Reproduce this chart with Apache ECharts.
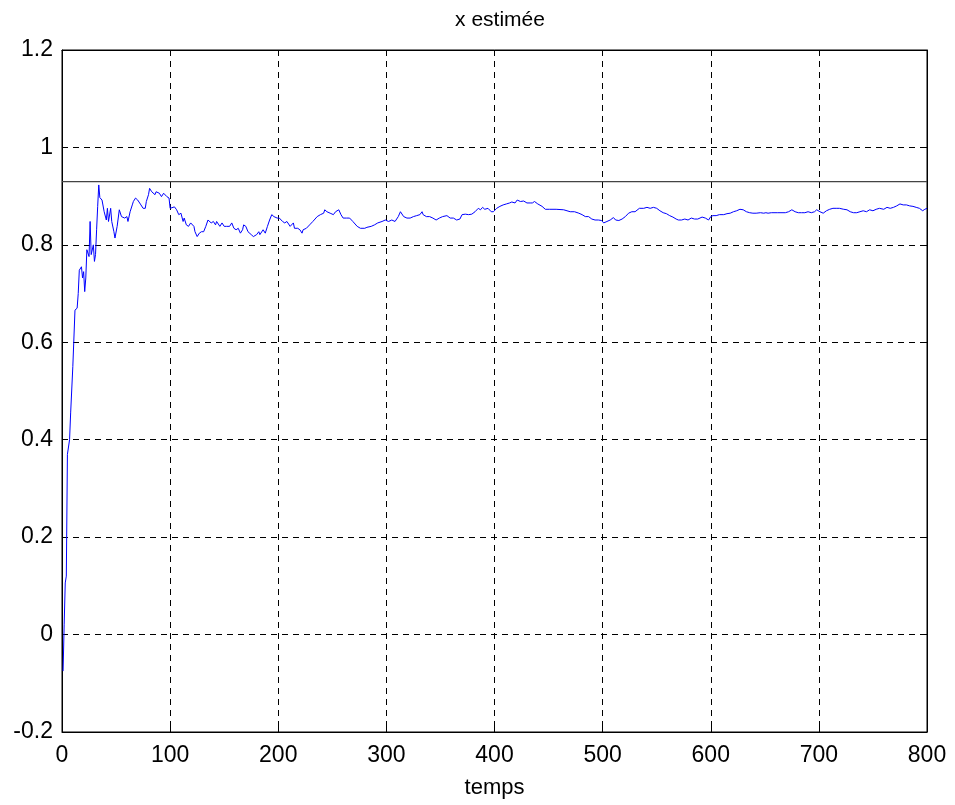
<!DOCTYPE html>
<html>
<head>
<meta charset="utf-8">
<script src="https://cdn.jsdelivr.net/npm/echarts@6/dist/echarts.min.js"></script>
<style>
html,body{margin:0;padding:0;background:#fff;}
#chart{width:955px;height:805px;}
</style>
</head>
<body>
<div id="chart"></div>
<script>
const titleText = 'x estimée';
const xName = 'temps';
const xTicks = [0, 100, 200, 300, 400, 500, 600, 700, 800];
const yTicks = [-0.2, 0, 0.2, 0.4, 0.6, 0.8, 1, 1.2];
const trueValue = 0.93;
const times = [1,2,3,4,5,7,8,10,12,14,15,16,18,19,20,21,22,23,25,26,27,29,30,31,32,33,34,35,37,39,41,42,43,45,46,48,49,51,53,55,58,60,61,63,65,66,68,70,73,75,77,78,80,81,83,84,86,87,90,92,94,95,97,98,99,100,101,104,106,108,110,112,113,115,117,119,122,123,125,127,129,131,133,135,136,138,140,142,143,146,148,150,152,155,157,159,161,163,165,167,168,170,172,175,177,180,182,183,186,188,190,192,194,196,199,201,204,206,208,211,212,214,215,218,220,222,223,226,229,232,236,239,242,243,245,248,249,251,253,256,258,260,263,266,269,273,276,280,282,283,286,289,292,296,299,302,305,308,311,313,314,316,319,322,325,328,331,333,334,337,340,343,346,349,352,356,359,362,365,368,370,373,376,379,382,385,387,389,391,394,397,399,402,405,408,411,414,416,419,421,424,425,427,430,433,435,437,440,444,447,451,457,464,470,474,478,481,484,487,490,493,496,499,501,504,507,510,512,515,518,521,524,527,530,534,538,541,544,547,550,553,556,559,562,565,568,570,573,576,579,582,585,588,592,595,598,600,602,605,608,612,615,618,621,624,627,630,633,636,639,642,646,649,651,653,656,662,669,672,675,678,681,684,687,690,693,696,698,701,704,707,710,713,716,719,723,726,729,732,735,738,741,744,747,750,753,756,760,763,766,769,772,775,778,781,784,787,790,793,796,798,800];
const estimate = [-0.075,0.02,0.106,0.12,0.37,0.40,0.455,0.55,0.666,0.67,0.70,0.748,0.755,0.732,0.745,0.704,0.732,0.79,0.776,0.848,0.78,0.80,0.766,0.78,0.831,0.879,0.923,0.897,0.892,0.868,0.851,0.875,0.848,0.875,0.848,0.827,0.814,0.838,0.872,0.858,0.855,0.858,0.848,0.868,0.882,0.889,0.896,0.892,0.882,0.875,0.875,0.889,0.903,0.916,0.909,0.913,0.903,0.909,0.906,0.899,0.906,0.903,0.899,0.903,0.896,0.875,0.879,0.878,0.872,0.862,0.865,0.848,0.855,0.841,0.838,0.845,0.838,0.827,0.817,0.824,0.827,0.827,0.838,0.851,0.855,0.845,0.848,0.841,0.848,0.838,0.845,0.838,0.838,0.838,0.845,0.834,0.831,0.834,0.824,0.831,0.841,0.838,0.827,0.821,0.817,0.821,0.827,0.821,0.831,0.824,0.838,0.851,0.862,0.858,0.855,0.855,0.848,0.845,0.848,0.838,0.834,0.845,0.834,0.834,0.831,0.824,0.831,0.834,0.841,0.848,0.858,0.862,0.865,0.872,0.868,0.865,0.868,0.862,0.868,0.872,0.862,0.855,0.855,0.855,0.848,0.838,0.834,0.834,0.836,0.832,0.838,0.841,0.845,0.848,0.851,0.848,0.851,0.848,0.858,0.868,0.866,0.858,0.855,0.855,0.858,0.860,0.862,0.868,0.862,0.858,0.858,0.855,0.851,0.855,0.858,0.860,0.855,0.855,0.851,0.853,0.862,0.863,0.862,0.863,0.868,0.875,0.872,0.877,0.873,0.875,0.868,0.868,0.875,0.879,0.882,0.884,0.886,0.888,0.886,0.892,0.889,0.893,0.890,0.886,0.886,0.886,0.889,0.884,0.879,0.873,0.873,0.873,0.872,0.868,0.868,0.865,0.862,0.858,0.858,0.853,0.851,0.851,0.850,0.845,0.848,0.851,0.856,0.851,0.850,0.853,0.858,0.865,0.868,0.868,0.875,0.875,0.877,0.875,0.877,0.875,0.870,0.866,0.864,0.860,0.857,0.853,0.851,0.851,0.853,0.851,0.855,0.853,0.853,0.857,0.855,0.851,0.858,0.860,0.860,0.862,0.862,0.864,0.865,0.868,0.870,0.873,0.872,0.868,0.866,0.865,0.865,0.866,0.865,0.866,0.865,0.866,0.866,0.866,0.868,0.872,0.868,0.866,0.866,0.866,0.868,0.866,0.868,0.872,0.868,0.865,0.870,0.873,0.875,0.875,0.875,0.873,0.872,0.868,0.866,0.866,0.868,0.870,0.868,0.872,0.870,0.873,0.875,0.873,0.877,0.875,0.877,0.880,0.884,0.882,0.882,0.880,0.879,0.877,0.875,0.870,0.873,0.875];

const font = 'Liberation Sans, Arial, sans-serif';
const chart = echarts.init(document.getElementById('chart'), null, {renderer: 'canvas'});
const estData = times.map((t, i) => [t, estimate[i]]);
const refData = [[xTicks[0], trueValue], [xTicks[xTicks.length - 1], trueValue]];
const fmtY = v => String(+(+v).toFixed(1));
const gridDash = {show: true, lineStyle: {color: '#000', width: 1, type: [6, 5]}};
chart.setOption({
  animation: false,
  backgroundColor: '#fff',
  title: {
    text: titleText, left: 495, top: 5, textAlign: 'center',
    textStyle: {fontFamily: font, fontSize: 21, fontWeight: 'normal', color: '#000'}
  },
  grid: {left: 62, right: 28, top: 50, bottom: 73, show: true, borderColor: '#000', borderWidth: 1, backgroundColor: 'transparent'},
  xAxis: [{
    type: 'value', min: xTicks[0], max: xTicks[xTicks.length - 1], interval: 100,
    name: xName, nameLocation: 'middle', nameGap: 45,
    nameTextStyle: {fontFamily: font, fontSize: 22, color: '#000'},
    axisLine: {show: true, onZero: false, lineStyle: {color: '#000', width: 1}},
    axisTick: {show: true, inside: true, length: 6, lineStyle: {color: '#000'}},
    axisLabel: {fontFamily: font, fontSize: 23, color: '#000', margin: 12},
    splitLine: gridDash
  }, {
    type: 'value', position: 'top', min: xTicks[0], max: xTicks[xTicks.length - 1], interval: 100,
    axisLine: {show: true, onZero: false, lineStyle: {color: '#000', width: 1}},
    axisTick: {show: true, inside: true, length: 6, lineStyle: {color: '#000'}},
    axisLabel: {show: false}, splitLine: {show: false}
  }],
  yAxis: [{
    type: 'value', min: yTicks[0], max: yTicks[yTicks.length - 1], interval: 0.2,
    axisLine: {show: true, onZero: false, lineStyle: {color: '#000', width: 1}},
    axisTick: {show: true, inside: true, length: 6, lineStyle: {color: '#000'}},
    axisLabel: {fontFamily: font, fontSize: 23, color: '#000', margin: 9, formatter: fmtY},
    splitLine: gridDash
  }, {
    type: 'value', position: 'right', min: yTicks[0], max: yTicks[yTicks.length - 1], interval: 0.2,
    axisLine: {show: true, onZero: false, lineStyle: {color: '#000', width: 1}},
    axisTick: {show: true, inside: true, length: 6, lineStyle: {color: '#000'}},
    axisLabel: {show: false}, splitLine: {show: false}
  }],
  series: [{
    type: 'line', data: refData, showSymbol: false, symbol: 'none',
    lineStyle: {color: '#444', width: 1.2}, z: 3
  }, {
    type: 'line', data: estData, showSymbol: false, symbol: 'none',
    lineStyle: {color: '#0000ff', width: 1}, z: 4
  }]
});
</script>
</body>
</html>
